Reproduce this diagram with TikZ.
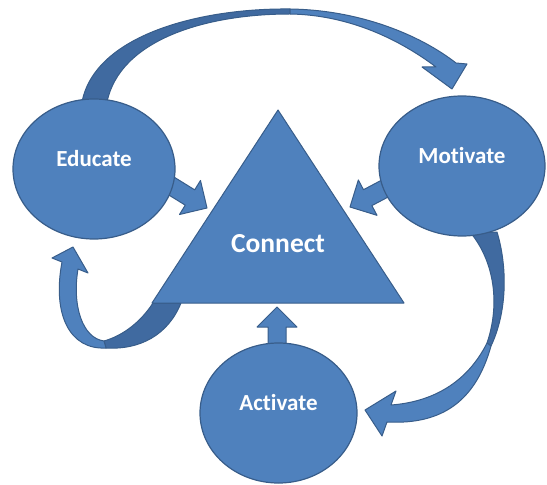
\documentclass[tikz,border=0pt]{standalone}
\usepackage{fontspec}
\setmainfont{Carlito}[Ligatures=NoCommon]
\usepackage{tikz}
\usetikzlibrary{calc,shapes.geometric}
\definecolor{capblue}{RGB}{79,129,189}
\definecolor{capedge}{RGB}{56,93,138}
\definecolor{capback}{RGB}{64,106,160}

\newcommand{\blockarrow}[2]{%
  \coordinate (hb) at ($(#2)!20bp!(#1)$);
  \draw[fatarrow] ($(#1)!9bp!90:(#2)$) -- ($(hb)!9bp!-90:(#1)$) -- ($(hb)!20bp!-90:(#1)$) -- (#2)
    -- ($(hb)!20bp!90:(#1)$) -- ($(hb)!9bp!90:(#1)$) -- ($(#1)!9bp!-90:(#2)$) -- cycle;}

\begin{document}
\begin{tikzpicture}[x=1bp,y=-1bp,
  bubble/.style={ellipse,draw=capedge,fill=capblue,line width=1.2bp,text=white,font=\fontsize{23bp}{27bp}\selectfont\bfseries,text height=15bp,text depth=20bp},
  fatarrow/.style={draw=capedge,fill=capblue,line width=1bp,line join=round},
  backside/.style={fatarrow,fill=capback}
]
\useasboundingbox (0,0) rectangle (547,485);
% Educate -> Motivate, over the top
\draw[backside] (82,102) .. controls (95,35) and (200,8) .. (290,9) -- (290,14)
  .. controls (205,14) and (120,40) .. (107,102) -- cycle;
\draw[fatarrow] (290,9) .. controls (360,10) and (420,35) .. (456,63) -- (467,64) -- (452,89)
  -- (422,67) -- (436,67) .. controls (400,40) and (350,15) .. (290,14) -- cycle;
% Motivate -> Activate, down the right side
\draw[backside] (470,232) .. controls (495,262) and (500,305) .. (487,343) -- (491,346)
  .. controls (508,310) and (507,265) .. (497,232) -- cycle;
\draw[fatarrow] (491,346) .. controls (476,400) and (443,425) .. (387,422) -- (382,436) -- (365,410)
  -- (396,391) -- (391,405) .. controls (432,402) and (467,383) .. (487,343) -- cycle;
% Connect -> Educate, round the lower left
\draw[backside] (153,303) -- (181,303) .. controls (168,335) and (140,350) .. (106,348) -- (104,341)
  .. controls (125,335) and (142,320) .. (153,303) -- cycle;
\draw[fatarrow] (106,348) .. controls (70,350) and (52,315) .. (62,262) -- (52,258) -- (73,247)
  -- (88,273) -- (78,269) .. controls (72,305) and (82,338) .. (104,341) -- cycle;
% arrows into the triangle
\coordinate (eduOut) at (160,179);
\coordinate (conL) at (207,208);
\coordinate (motOut) at (403,179);
\coordinate (conR) at (350,207);
\coordinate (actOut) at (277,360);
\coordinate (conB) at (277,307);
\blockarrow{eduOut}{conL}
\blockarrow{motOut}{conR}
\blockarrow{actOut}{conB}
\coordinate (apex) at (278,110);
\coordinate (baseL) at (152,303);
\coordinate (baseR) at (404,303);
\draw[fatarrow] (apex) -- (baseL) -- (baseR) -- cycle;
\node[text=white,font=\fontsize{27.5bp}{32bp}\selectfont\bfseries] (connect) at (278,244) {Connect};
\node[bubble,minimum width=162bp,minimum height=140bp] (educate) at (94,169) {Educate};
\node[bubble,minimum width=166bp,minimum height=140bp] (motivate) at (462,166) {Motivate};
\node[bubble,minimum width=157bp,minimum height=140bp] (activate) at (278.5,413) {Activate};
\end{tikzpicture}
\end{document}
